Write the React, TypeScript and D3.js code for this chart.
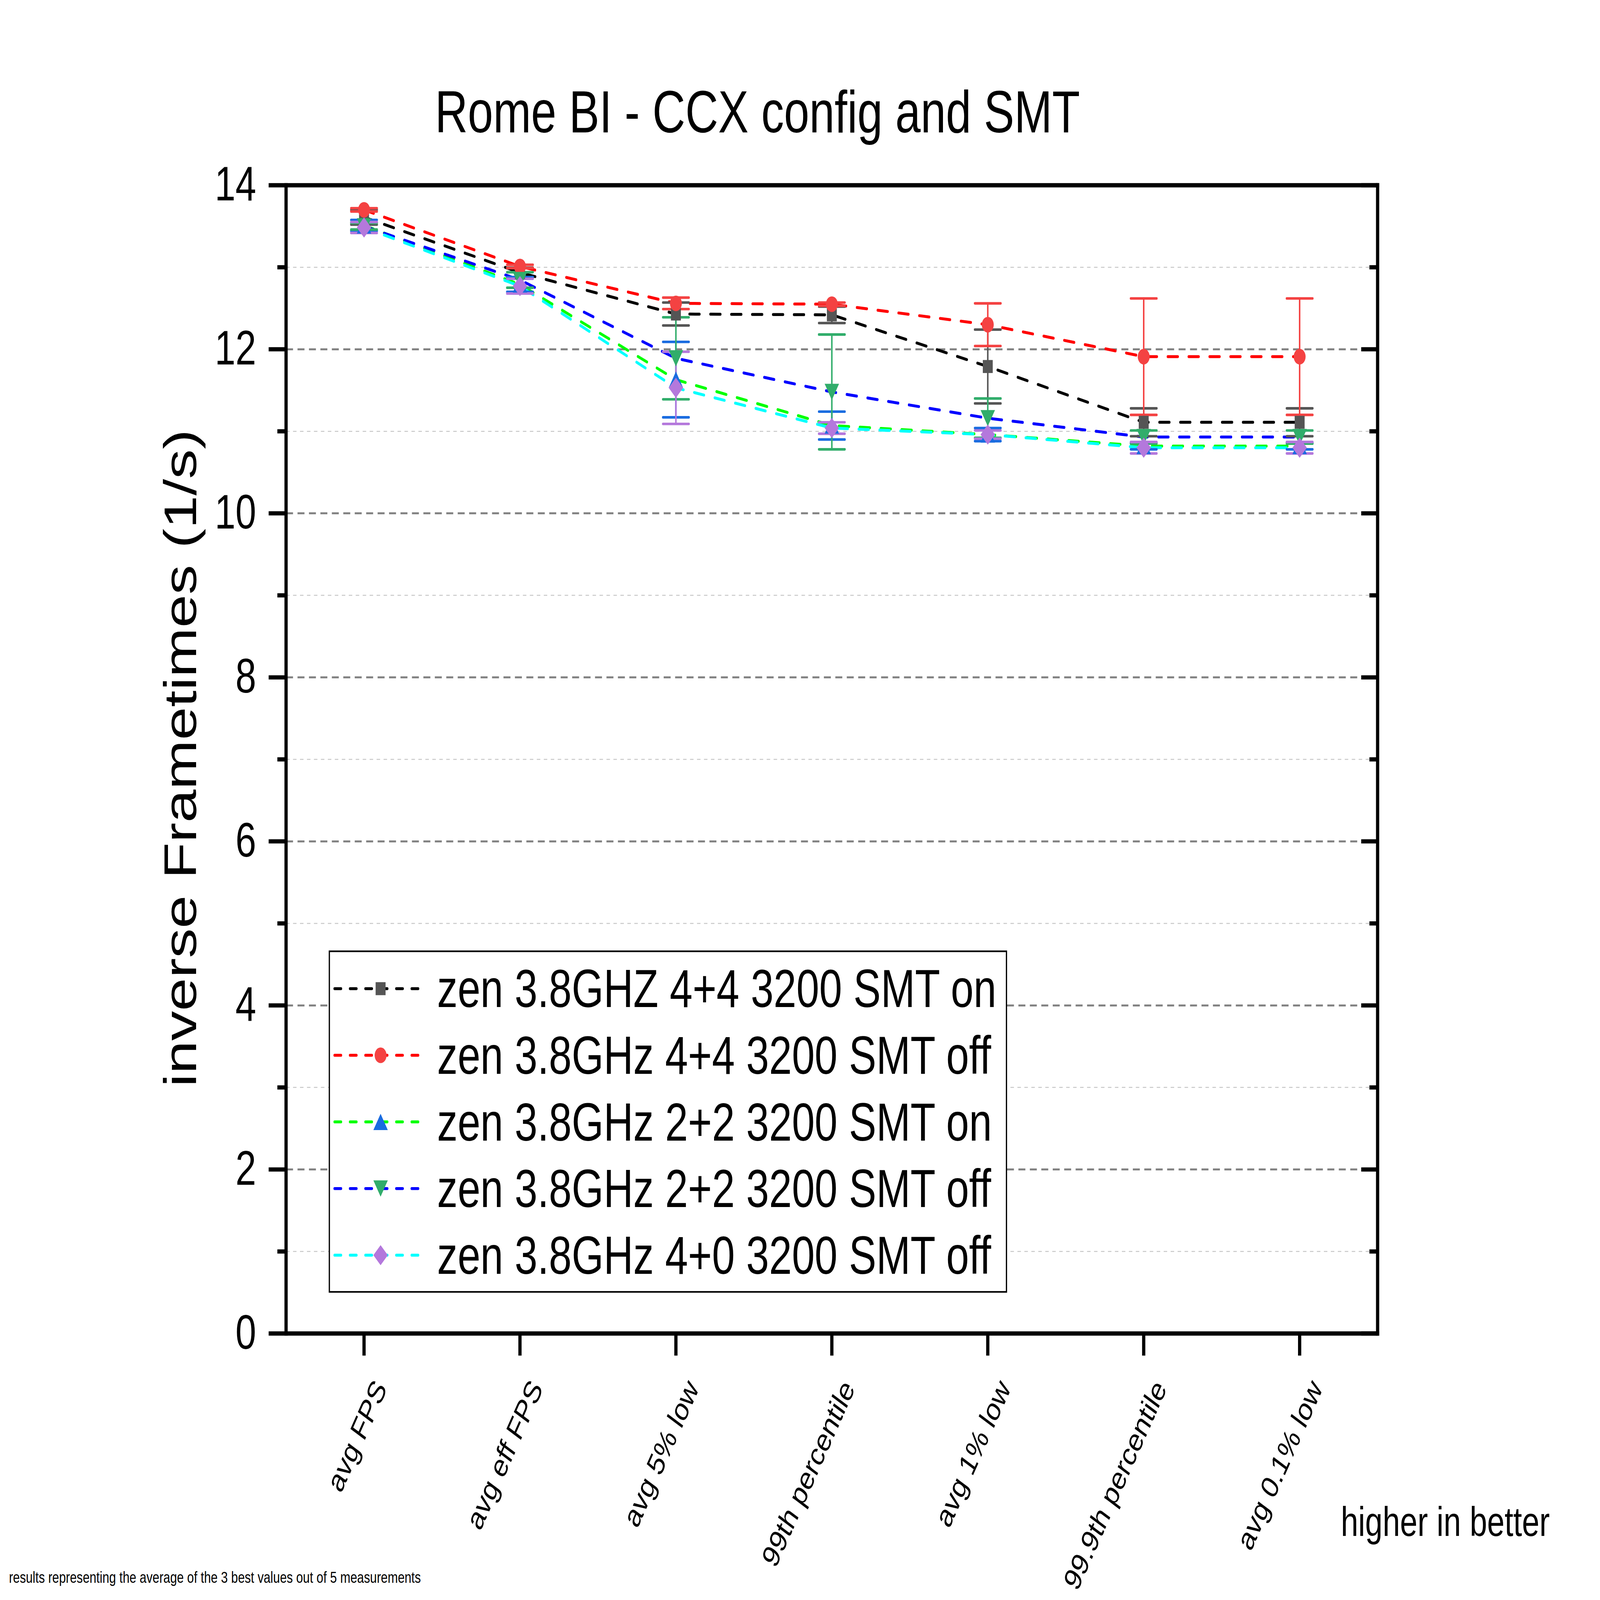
import React, { useEffect } from "react";
import * as d3 from "d3";

const categories = [
  "avg FPS",
  "avg eff FPS",
  "avg 5% low",
  "99th percentile",
  "avg 1% low",
  "99.9th percentile",
  "avg 0.1% low",
];

const seriesNames = [
  "zen 3.8GHZ 4+4 3200 SMT on",
  "zen 3.8GHz 4+4 3200 SMT off",
  "zen 3.8GHz 2+2 3200 SMT on",
  "zen 3.8GHz 2+2 3200 SMT off",
  "zen 3.8GHz 4+0 3200 SMT off",
];

const s1Values = [13.61, 12.935, 12.43, 12.42, 11.79, 11.11, 11.11];
const s1Errors = [0.09, 0.06, 0.14, 0.1, 0.45, 0.17, 0.17];
const s2Values = [13.7, 13.01, 12.56, 12.55, 12.3, 11.91, 11.91];
const s2Errors = [0.02, 0.02, 0.07, 0.02, 0.26, 0.71, 0.71];
const s3Values = [13.51, 12.79, 11.63, 11.07, 10.96, 10.82, 10.82];
const s3Errors = [0.067, 0.09, 0.46, 0.17, 0.08, 0.04, 0.04];
const s4Values = [13.5, 12.845, 11.89, 11.48, 11.16, 10.93, 10.93];
const s4Errors = [0.04, 0.095, 0.5, 0.7, 0.24, 0.08, 0.08];
const s5Values = [13.485, 12.77, 11.53, 11.04, 10.96, 10.8, 10.8];
const s5Errors = [0.067, 0.09, 0.44, 0.07, 0.05, 0.07, 0.07];

const yTicks = [0, 2, 4, 6, 8, 10, 12, 14];
const yMinorTicks = [1, 3, 5, 7, 9, 11, 13];

const titleText = "Rome BI - CCX config and SMT";
const yAxisTitle = "inverse Frametimes (1/s)";
const noteText = "higher in better";
const footText = "results representing the average of the 3 best values out of 5 measurements";

const lineColors = ["#000000", "#ff0000", "#00ff00", "#0000ff", "#00ffff"];
const markerColors = ["#555555", "#f44242", "#1a6ce0", "#31ad6b", "#b478dc"];
const markerShapes = ["square", "circle", "triangleUp", "triangleDown", "diamond"];

const W = 6432;
const H = 4923;
const FONT = "'Liberation Sans', Arial, Helvetica, sans-serif";

const plotLeft = 1150;
const plotRight = 5538;
const plotTop = 570;
const plotBottom = 4103;

function markerPath(shape: string, cx: number, cy: number): string {
  switch (shape) {
    case "square": {
      const s = 20;
      return `M${cx - s},${cy - s}H${cx + s}V${cy + s}H${cx - s}Z`;
    }
    case "circle": {
      const r = 24;
      return `M${cx - r},${cy}a${r},${r} 0 1,0 ${2 * r},0a${r},${r} 0 1,0 ${-2 * r},0Z`;
    }
    case "triangleUp": {
      const w = 29, h = 25;
      return `M${cx},${cy - h}L${cx + w},${cy + h}L${cx - w},${cy + h}Z`;
    }
    case "triangleDown": {
      const w = 29, h = 25;
      return `M${cx},${cy + h}L${cx + w},${cy - h}L${cx - w},${cy - h}Z`;
    }
    case "diamond": {
      const w = 29, h = 31;
      return `M${cx},${cy - h}L${cx + w},${cy}L${cx},${cy + h}L${cx - w},${cy}Z`;
    }
  }
  return "";
}

export default function App() {
  useEffect(() => {
    document.body.style.margin = "0";
    document.body.style.overflow = "hidden";
    document.documentElement.style.overflow = "hidden";
  }, []);

  const allValues = [s1Values, s2Values, s3Values, s4Values, s5Values];
  const allErrors = [s1Errors, s2Errors, s3Errors, s4Errors, s5Errors];

  const xBand = d3.scaleBand<string>().domain(categories).range([plotLeft, plotRight]).padding(0);
  const xc = (i: number) => (xBand(categories[i]) as number) + xBand.bandwidth() / 2;
  const y = d3.scaleLinear().domain([0, 14]).range([plotBottom, plotTop]);

  const line = d3
    .line<number>()
    .x((_, i) => xc(i))
    .y((d) => y(d));

  const legendTop = 2927;
  const legendLeft = 1324;
  const legendRight = 4046;
  const legendBottom = 3975;
  const legendRow0 = 3042;
  const legendStep = 205;

  return (
    <svg
      viewBox={`0 0 ${W} ${H}`}
      preserveAspectRatio="none"
      style={{ position: "fixed", left: 0, top: 0, width: "100vw", height: "100vh", background: "#fff", display: "block" }}
      fontFamily={FONT}
    >
      <rect x={0} y={0} width={W} height={H} fill="#ffffff" />

      {/* grid */}
      {yMinorTicks.map((t) => (
        <line
          key={"mg" + t}
          x1={plotLeft}
          x2={plotRight}
          y1={y(t)}
          y2={y(t)}
          stroke="#c8c8c8"
          strokeWidth={3}
          strokeDasharray="14 14"
        />
      ))}
      {yTicks
        .filter((t) => t > 0 && t < 14)
        .map((t) => (
          <line
            key={"g" + t}
            x1={plotLeft}
            x2={plotRight}
            y1={y(t)}
            y2={y(t)}
            stroke="#808080"
            strokeWidth={6}
            strokeDasharray="28 18"
          />
        ))}

      {/* data lines */}
      {allValues.map((vals, si) => (
        <path
          key={"l" + si}
          d={line(vals) || ""}
          fill="none"
          stroke={lineColors[si]}
          strokeWidth={9}
          strokeDasharray="40 44"
          strokeLinecap="round"
        />
      ))}

      {/* error bars */}
      {allValues.map((vals, si) => (
        <g key={"e" + si} stroke={markerColors[si]}>
          {vals.map((v, i) => {
            const e = allErrors[si][i];
            const cx = xc(i);
            return (
              <g key={i}>
                <line x1={cx} x2={cx} y1={y(v + e)} y2={y(v - e)} strokeWidth={6} />
                <line x1={cx - 52} x2={cx + 52} y1={y(v + e)} y2={y(v + e)} strokeWidth={8} strokeLinecap="round" />
                <line x1={cx - 52} x2={cx + 52} y1={y(v - e)} y2={y(v - e)} strokeWidth={8} strokeLinecap="round" />
              </g>
            );
          })}
        </g>
      ))}

      {/* markers */}
      {allValues.map((vals, si) => (
        <g key={"m" + si} fill={markerColors[si]}>
          {vals.map((v, i) => (
            <path key={i} d={markerPath(markerShapes[si], xc(i), y(v))} />
          ))}
        </g>
      ))}

      {/* axes frame */}
      <g stroke="#000" strokeWidth={13} fill="none">
        <line x1={plotLeft} x2={plotLeft} y1={plotTop - 6.5} y2={plotBottom + 6.5} />
        <line x1={plotRight} x2={plotRight} y1={plotTop - 6.5} y2={plotBottom + 6.5} />
        <line x1={plotLeft} x2={plotRight + 6.5} y1={plotTop} y2={plotTop} />
        <line x1={plotLeft} x2={plotRight + 6.5} y1={plotBottom} y2={plotBottom} />
        {yTicks.map((t) => (
          <line key={"lt" + t} x1={plotLeft - 70} x2={plotLeft} y1={y(t)} y2={y(t)} />
        ))}
        {yMinorTicks.map((t) => (
          <line key={"lmt" + t} x1={plotLeft - 35} x2={plotLeft} y1={y(t)} y2={y(t)} />
        ))}
        {yTicks.map((t) => (
          <line key={"rt" + t} x1={plotRight - 66} x2={plotRight} y1={y(t)} y2={y(t)} />
        ))}
        {yMinorTicks.map((t) => (
          <line key={"rmt" + t} x1={plotRight - 33} x2={plotRight} y1={y(t)} y2={y(t)} />
        ))}
        {categories.map((c, i) => (
          <line key={"bt" + c} x1={xc(i)} x2={xc(i)} y1={plotBottom} y2={plotBottom + 68} />
        ))}
      </g>

      {/* y tick labels */}
      {yTicks.map((t) => (
        <text key={"yl" + t} x={1030} y={y(t) + 47} fontSize={150} textAnchor="end" fill="#000">
          {t}
        </text>
      ))}

      {/* x tick labels */}
      {categories.map((c, i) => (
        <text
          key={"xl" + c}
          transform={`translate(${xc(i) + 95},4272) rotate(-60)`}
          fontSize={98}
          textAnchor="end"
          fill="#000"
        >
          {c}
        </text>
      ))}

      {/* title */}
      <text x={3045} y={408} fontSize={183} textAnchor="middle" fill="#000">
        {titleText}
      </text>

      {/* y axis title */}
      <text transform="translate(789,2333) rotate(-90)" fontSize={183} textAnchor="middle" fill="#000">
        {yAxisTitle}
      </text>

      {/* legend */}
      <rect
        x={legendLeft}
        y={legendTop}
        width={legendRight - legendLeft}
        height={legendBottom - legendTop}
        fill="#ffffff"
        stroke="#000"
        strokeWidth={5}
      />
      {seriesNames.map((name, si) => {
        const ly = legendRow0 + si * legendStep;
        return (
          <g key={"lg" + si}>
            <line
              x1={1345}
              x2={1688}
              y1={ly}
              y2={ly}
              stroke={lineColors[si]}
              strokeWidth={9}
              strokeDasharray="26 36"
              strokeLinecap="round"
            />
            <path d={markerPath(markerShapes[si], 1530, ly)} fill={markerColors[si]} />
            <text x={1757} y={ly + 57} fontSize={165} fill="#000">
              {name}
            </text>
          </g>
        );
      })}

      {/* notes */}
      <text x={5390} y={4726} fontSize={126} fill="#000">
        {noteText}
      </text>
      <text x={36} y={4870} fontSize={49} fill="#000">
        {footText}
      </text>
    </svg>
  );
}
